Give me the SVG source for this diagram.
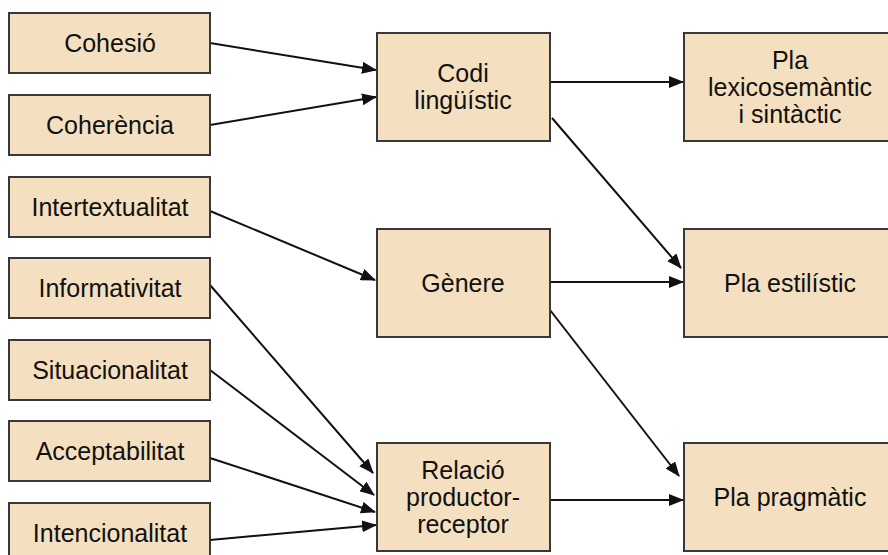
<svg xmlns="http://www.w3.org/2000/svg" width="888" height="555" viewBox="0 0 888 555">
<style>
.box{fill:#F4E0C0;stroke:#383838;stroke-width:2}
.t{font-family:"Liberation Sans",Arial,sans-serif;font-size:25px;fill:#111;text-anchor:middle}
.c{stroke:#111;stroke-width:2;fill:none;marker-end:url(#ah)}
</style>
<defs>
<marker id="ah" markerUnits="userSpaceOnUse" markerWidth="15" markerHeight="12" refX="14" refY="6" orient="auto">
<path d="M0,0 L15,6 L0,12 z" fill="#111"/>
</marker>
</defs>
<rect width="888" height="555" fill="#fff"/>
<g id="connectors">
<line class="c" x1="210" y1="43" x2="376" y2="70"/>
<line class="c" x1="210" y1="125" x2="376" y2="97"/>
<line class="c" x1="550" y1="82" x2="683" y2="82"/>
<line class="c" x1="552" y1="118" x2="681" y2="268"/>
<line class="c" x1="210" y1="211" x2="375" y2="280"/>
<line class="c" x1="550" y1="282" x2="683" y2="282"/>
<line class="c" x1="550" y1="310" x2="679" y2="476"/>
<line class="c" x1="210" y1="285" x2="373" y2="473"/>
<line class="c" x1="210" y1="370" x2="374" y2="495"/>
<line class="c" x1="210" y1="458" x2="375" y2="512"/>
<line class="c" x1="210" y1="540" x2="376" y2="525"/>
<line class="c" x1="550" y1="500" x2="683" y2="500"/>
</g>
<g id="cohesio"><rect class="box" x="9" y="13" width="201" height="60"/><text class="t" x="110" y="52">Cohesió</text></g>
<g id="coherencia"><rect class="box" x="9" y="95" width="201" height="60"/><text class="t" x="110" y="134">Coherència</text></g>
<g id="intertextualitat"><rect class="box" x="9" y="177" width="201" height="60"/><text class="t" x="110" y="216">Intertextualitat</text></g>
<g id="informativitat"><rect class="box" x="9" y="258" width="201" height="60"/><text class="t" x="110" y="297">Informativitat</text></g>
<g id="situacionalitat"><rect class="box" x="9" y="340" width="201" height="60"/><text class="t" x="110" y="379">Situacionalitat</text></g>
<g id="acceptabilitat"><rect class="box" x="9" y="421" width="201" height="60"/><text class="t" x="110" y="460">Acceptabilitat</text></g>
<g id="intencionalitat"><rect class="box" x="9" y="503" width="201" height="60"/><text class="t" x="110" y="542">Intencionalitat</text></g>
<g id="codi"><rect class="box" x="377" y="33" width="173" height="108"/><text class="t" x="463" y="82">Codi</text><text class="t" x="463" y="109">lingüístic</text></g>
<g id="genere"><rect class="box" x="377" y="229" width="173" height="108"/><text class="t" x="463" y="292">Gènere</text></g>
<g id="relacio"><rect class="box" x="377" y="443" width="173" height="108"/><text class="t" x="463" y="479">Relació</text><text class="t" x="463" y="506">productor-</text><text class="t" x="463" y="533">receptor</text></g>
<g id="pla-lexico"><rect class="box" x="684" y="33" width="212" height="108"/><text class="t" x="790" y="69">Pla</text><text class="t" x="790" y="96">lexicosemàntic</text><text class="t" x="790" y="123">i sintàctic</text></g>
<g id="pla-estilistic"><rect class="box" x="684" y="229" width="212" height="108"/><text class="t" x="790" y="292">Pla estilístic</text></g>
<g id="pla-pragmatic"><rect class="box" x="684" y="443" width="212" height="108"/><text class="t" x="790" y="506">Pla pragmàtic</text></g>
</svg>
